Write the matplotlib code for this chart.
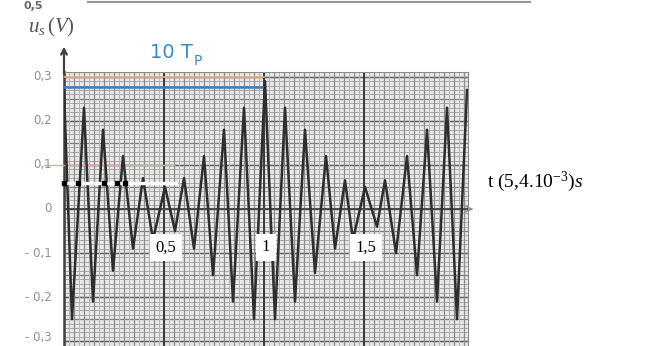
import numpy as np
import matplotlib.pyplot as plt

plt.rcParams['mathtext.fontset'] = 'custom'
plt.rcParams['mathtext.rm'] = 'Liberation Serif'
plt.rcParams['mathtext.it'] = 'Liberation Serif:italic'

# successive extrema of the trace: t in units of 5,4 ms, u_s in volts
t_ext = [0.0, 0.04, 0.10, 0.145, 0.195, 0.245, 0.295, 0.345, 0.395, 0.445,
         0.505, 0.555, 0.60, 0.65, 0.70, 0.745, 0.80, 0.845, 0.90, 0.95,
         1.005, 1.055, 1.105, 1.155, 1.205, 1.255, 1.31, 1.355, 1.405, 1.445,
         1.505, 1.565, 1.605, 1.66, 1.715, 1.765, 1.815, 1.865, 1.915, 1.965,
         2.015]
u_ext = [0.27, -0.25, 0.23, -0.21, 0.18, -0.14, 0.12, -0.09, 0.07, -0.07,
         0.05, -0.05, 0.07, -0.09, 0.12, -0.15, 0.18, -0.21, 0.23, -0.25,
         0.29, -0.25, 0.23, -0.21, 0.18, -0.145, 0.12, -0.09, 0.065, -0.07,
         0.05, -0.04, 0.065, -0.10, 0.12, -0.15, 0.18, -0.21, 0.23, -0.25,
         0.27]

y_ticks = [0.3, 0.2, 0.1, 0, -0.1, -0.2, -0.3]
y_labels = ['0,3', '0,2', '0,1', '0', '- 0,1', '- 0,2', '- 0,3']
x_ticks = [0.5, 1, 1.5]
x_labels = ['0,5', '1', '1,5']

W, H = 645, 346
fig = plt.figure(figsize=(W / 100, H / 100), dpi=100)
ax = fig.add_axes([64 / W, 0, (468 - 64) / W, (346 - 72) / H])
ax.set_xlim(0, 2.02)
ax.set_ylim(-0.311, 0.311)
ax.set_facecolor('#e8e8e8')

# graph paper
for y in np.arange(-0.31, 0.311, 0.01):
    ax.axhline(y, color='#a8a8a8', lw=0.7, zorder=1)
for y in np.arange(-0.3, 0.31, 0.05):
    ax.axhline(y, color='#808080', lw=0.9, zorder=1)
for y in np.arange(-0.3, 0.31, 0.1):
    ax.axhline(y, color='#666666', lw=1.0, zorder=1)
for x in np.arange(0, 2.03, 0.025):
    ax.axvline(x, color='#b4b4b4', lw=0.7, zorder=1)
for x in np.arange(0, 2.03, 0.05):
    ax.axvline(x, color='#8c8c8c', lw=0.9, zorder=1)
for x in [0.5, 1.0, 1.5]:
    ax.axvline(x, color='#3a3a3a', lw=1.4, zorder=2)
ax.axhline(0, color='#4a4a4a', lw=1.4, zorder=2)

# construction lines for the 10 Tp reading
ax.plot([0, 1.0], [0.300, 0.300], color='#f0b070', lw=1.2, zorder=3)
ax.plot([0, 1.0], [0.277, 0.277], color='#3a7fc0', lw=1.8, zorder=3)
ax.plot([-0.1, 0.55], [0.1, 0.1], color='#f0a0a0', lw=1.0, zorder=3,
        clip_on=False)
ax.plot([0, 0.56], [0.06, 0.06], color='white', lw=2.4, zorder=5)
ax.plot([0, 0.07, 0.2, 0.265, 0.305], [0.06] * 5, 's', color='black',
        ms=3, zorder=6, clip_on=False)

# signal
ax.plot(t_ext, u_ext, color='#2e2e2e', lw=1.8, zorder=4)

for s in ['top', 'right', 'bottom']:
    ax.spines[s].set_color('#8a8a8a')
ax.spines['left'].set_color('#404040')
ax.spines['left'].set_linewidth(1.8)

ax.set_xticks([])
ax.set_yticks([])
for yt, lab in zip(y_ticks, y_labels):
    # keep the lowest label inside the figure
    ax.text(-0.06, max(yt, -0.292), lab, ha='right', va='center',
            color='#909090', fontsize=8.5, clip_on=False)

for xt, lab in zip(x_ticks, x_labels):
    ax.text(xt + 0.01, -0.087, lab, ha='center', va='center', fontsize=12,
            family='Liberation Serif', zorder=7,
            bbox=dict(facecolor='white', edgecolor='none', pad=4))

# axis arrows
ax.annotate('', xy=(0, 0.375), xytext=(0, 0.30),
            arrowprops=dict(arrowstyle='->', color='#404040', lw=1.6),
            annotation_clip=False)
ax.annotate('', xy=(2.06, 0), xytext=(2.02, 0),
            arrowprops=dict(arrowstyle='->', color='#909090', lw=1.2),
            annotation_clip=False)

fig.text(150 / W, 1 - 52 / H, '10 T', color='#3a8cc4', fontsize=14,
         va='center', family='DejaVu Sans')
fig.text(194 / W, 1 - 61 / H, 'P', color='#3a8cc4', fontsize=10,
         va='center', family='DejaVu Sans')
fig.text(28 / W, 1 - 27 / H, r'$u_s\,(V)$', color='#555555', fontsize=15,
         va='center')
fig.text(487 / W, 1 - 182 / H, r't (5,4.10$^{-3}$)$s$', fontsize=14,
         va='center', family='Liberation Serif')

# top border line and the value left above it
fig.lines.append(plt.Line2D([88 / W, 530 / W], [1 - 1.5 / H, 1 - 1.5 / H],
                            color='#999999', lw=1.5,
                            transform=fig.transFigure))
fig.text(24 / W, 1 - 1 / H, '0,5', color='#666666', fontsize=8,
         va='top', fontweight='bold')

fig.savefig('out.png', dpi=100)
